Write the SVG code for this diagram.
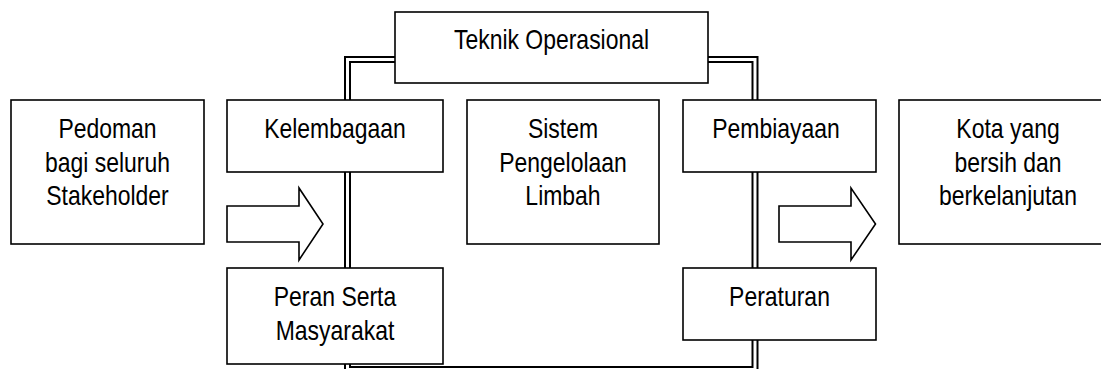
<svg xmlns="http://www.w3.org/2000/svg" width="1101" height="369" viewBox="0 0 1101 369">
<style>
.box{fill:#fff;stroke:#000;stroke-width:1.6}
.t{font-family:"Liberation Sans",Arial,sans-serif;font-size:28px;fill:#000;text-anchor:middle}
.arrow{fill:#fff;stroke:#000;stroke-width:1.6;stroke-linejoin:miter}
</style>
<rect width="1101" height="369" fill="#fff"/>
<g id="connectors">
<path d="M347.5,59.5 H755 V369.5 H347.5 Z" fill="none" stroke="#000" stroke-width="7"/>
<path d="M347.5,59.5 H755 V369.5 H347.5 Z" fill="none" stroke="#fff" stroke-width="3"/>
<path class="arrow" d="M227,206 H299 V188 L323,224 L299,260 V242 H227 Z"/>
<path class="arrow" d="M779,206 H851 V188 L875.5,224 L851,260 V242 H779 Z"/>
</g>
<g id="pedoman">
<rect class="box" x="11" y="100" width="193" height="144"/>
<text class="t" transform="matrix(0.82,0,0,1,107.5,138)">Pedoman</text>
<text class="t" transform="matrix(0.82,0,0,1,107.5,171.5)">bagi seluruh</text>
<text class="t" transform="matrix(0.82,0,0,1,107.5,205)">Stakeholder</text>
</g>
<g id="teknik">
<rect class="box" x="395" y="12" width="313" height="71"/>
<text class="t" transform="matrix(0.82,0,0,1,551.5,49)">Teknik Operasional</text>
</g>
<g id="kelembagaan">
<rect class="box" x="227" y="100" width="216" height="72"/>
<text class="t" transform="matrix(0.82,0,0,1,335,138)">Kelembagaan</text>
</g>
<g id="peran">
<rect class="box" x="227" y="268" width="216" height="96"/>
<text class="t" transform="matrix(0.82,0,0,1,335,306)">Peran Serta</text>
<text class="t" transform="matrix(0.82,0,0,1,335,340)">Masyarakat</text>
</g>
<g id="sistem">
<rect class="box" x="467" y="100" width="192" height="144"/>
<text class="t" transform="matrix(0.82,0,0,1,563,138)">Sistem</text>
<text class="t" transform="matrix(0.82,0,0,1,563,171.5)">Pengelolaan</text>
<text class="t" transform="matrix(0.82,0,0,1,563,205)">Limbah</text>
</g>
<g id="pembiayaan">
<rect class="box" x="683" y="100" width="193" height="72"/>
<text class="t" transform="matrix(0.82,0,0,1,776,138)">Pembiayaan</text>
</g>
<g id="peraturan">
<rect class="box" x="683" y="268" width="193" height="72"/>
<text class="t" transform="matrix(0.82,0,0,1,779.5,306)">Peraturan</text>
</g>
<g id="kota">
<rect class="box" x="899" y="100" width="220" height="144"/>
<text class="t" transform="matrix(0.82,0,0,1,1008,138)">Kota yang</text>
<text class="t" transform="matrix(0.82,0,0,1,1008,171.5)">bersih dan</text>
<text class="t" transform="matrix(0.82,0,0,1,1008,205)">berkelanjutan</text>
</g>
</svg>
